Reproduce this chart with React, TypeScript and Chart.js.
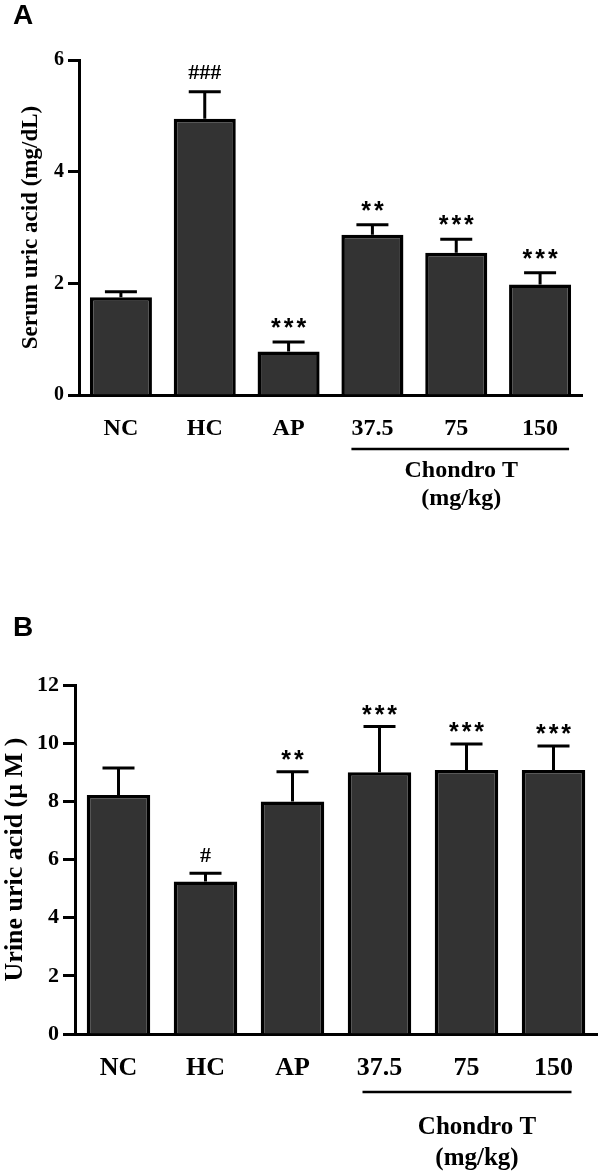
import React, { useEffect, useRef } from 'react';
import { Chart, registerables } from 'chart.js';

Chart.register(...registerables);

// ---------- data ----------
const categories = ['NC', 'HC', 'AP', '37.5', '75', '150'];

const serumMeans = [1.75, 4.95, 0.78, 2.87, 2.55, 1.98];
const serumErrors = [0.10, 0.48, 0.17, 0.18, 0.24, 0.21];
const serumMarks = ['', '###', '***', '**', '***', '***'];
const serumTicks = [0, 2, 4, 6];

const urineMeans = [8.22, 5.24, 7.99, 9.0, 9.08, 9.08];
const urineErrors = [0.93, 0.29, 1.03, 1.57, 0.89, 0.82];
const urineMarks = ['', '#', '**', '***', '***', '***'];
const urineTicks = [0, 2, 4, 6, 8, 10, 12];

const groupLabels = ['Chondro T', '(mg/kg)'];
const groupFirst = 3;
const groupLast = 5;

const SERIF = '"Liberation Serif", "Times New Roman", serif';
const SANS = '"Liberation Sans", Arial, sans-serif';

const annotPlugin = {
  id: 'annot',
  afterDatasetsDraw(chart: any, _args: any, opts: any) {
    const ctx = chart.ctx;
    const meta = chart.getDatasetMeta(0);
    const ys = chart.scales.y;
    const xs = chart.scales.x;
    ctx.save();
    ctx.strokeStyle = '#000';
    ctx.fillStyle = '#000';
    ctx.lineWidth = 3;
    meta.data.forEach((bar: any, i: number) => {
      const v = opts.means[i];
      const e = opts.errors[i];
      const top = ys.getPixelForValue(v);
      const et = ys.getPixelForValue(v + e);
      ctx.beginPath();
      ctx.moveTo(bar.x, top);
      ctx.lineTo(bar.x, et);
      ctx.moveTo(bar.x - opts.capHalf, et);
      ctx.lineTo(bar.x + opts.capHalf, et);
      ctx.stroke();
      const m = opts.marks[i];
      if (m) {
        ctx.textAlign = 'center';
        ctx.textBaseline = 'alphabetic';
        if (m.startsWith('#')) {
          ctx.font = `bold ${opts.hashSize}px ${SERIF}`;
          (ctx as any).letterSpacing = '0px';
          ctx.fillText(m, bar.x, et - opts.markGap + 7);
        } else {
          ctx.font = `bold ${opts.starSize}px ${SANS}`;
          (ctx as any).letterSpacing = '3px';
          ctx.fillText(m, bar.x + 1.5, et - opts.markGap + 14);
        }
      }
    });
    (ctx as any).letterSpacing = '0px';
    // group line
    const base = chart.chartArea.bottom;
    const x1 = xs.getPixelForValue(groupFirst) + opts.lineFrom;
    const x2 = xs.getPixelForValue(groupLast) + opts.lineTo;
    ctx.lineWidth = 2.5;
    ctx.beginPath();
    ctx.moveTo(x1, base + opts.lineDy);
    ctx.lineTo(x2, base + opts.lineDy);
    ctx.stroke();
    ctx.font = `bold ${opts.groupSize}px ${SERIF}`;
    ctx.textAlign = 'center';
    ctx.textBaseline = 'middle';
    const tx = (x1 + x2) / 2 + opts.textDx;
    ctx.fillText(groupLabels[0], tx, base + opts.text1Dy);
    ctx.fillText(groupLabels[1], tx, base + opts.text2Dy);
    // panel letter
    ctx.font = `bold 28px ${SANS}`;
    ctx.textAlign = 'left';
    ctx.textBaseline = 'alphabetic';
    ctx.fillText(opts.letter, 13, opts.letterY);
    ctx.restore();
  },
};

type PanelProps = {
  top: number;
  height: number;
  means: number[];
  errors: number[];
  marks: string[];
  ticks: number[];
  title: string;
  cfg: any;
};

function Panel({ top, height, means, errors, marks, ticks, title, cfg }: PanelProps) {
  const ref = useRef<HTMLCanvasElement>(null);
  useEffect(() => {
    if (!ref.current) return;
    const chart = new Chart(ref.current, {
      type: 'bar',
      data: {
        labels: categories,
        datasets: [
          {
            data: means,
            backgroundColor: '#333333',
            borderColor: '#000000',
            borderWidth: 3.5,
            barPercentage: cfg.barPct,
            categoryPercentage: 1,
          },
        ],
      },
      options: {
        responsive: false,
        animation: false,
        devicePixelRatio: 1,
        events: [],
        layout: { padding: { top: cfg.padTop, right: cfg.padRight, left: 0, bottom: 0 } },
        plugins: {
          legend: { display: false },
          tooltip: { enabled: false },
          annot: {
            means,
            errors,
            marks,
            capHalf: 16,
            markGap: cfg.markGap,
            hashSize: 22,
            starSize: 25,
            lineFrom: cfg.lineFrom,
            lineTo: cfg.lineTo,
            lineDy: cfg.lineDy,
            text1Dy: cfg.text1Dy,
            text2Dy: cfg.text2Dy,
            textDx: cfg.textDx,
            groupSize: cfg.groupSize,
            letter: cfg.letter,
            letterY: cfg.letterY,
          },
        } as any,
        scales: {
          x: {
            type: 'category',
            offset: true,
            grid: { display: false },
            border: { display: true, color: '#000', width: 3 },
            ticks: {
              color: '#000',
              font: { family: SERIF, size: cfg.xSize, weight: 'bold' },
              padding: cfg.xPad,
              maxRotation: 0,
            },
            afterFit: (s: any) => {
              s.height = cfg.xHeight;
            },
          },
          y: {
            min: ticks[0],
            max: ticks[ticks.length - 1],
            afterBuildTicks: (s: any) => {
              s.ticks = ticks.map((v) => ({ value: v }));
            },
            grid: {
              display: true,
              drawOnChartArea: false,
              drawTicks: true,
              tickLength: cfg.tickLen,
              tickWidth: 3,
              tickColor: '#000',
            },
            border: { display: true, color: '#000', width: 3 },
            ticks: {
              color: '#000',
              font: { family: SERIF, size: cfg.ySize, weight: 'bold' },
              padding: 4,
            },
            title: {
              display: true,
              text: title,
              color: '#000',
              font: { family: SERIF, size: cfg.titleSize, weight: 'bold' },
              padding: { top: cfg.titlePad, bottom: 0 },
            },
            afterFit: (s: any) => {
              s.width = cfg.yWidth;
            },
          },
        },
      },
      plugins: [annotPlugin],
    });
    return () => chart.destroy();
  }, []);
  return (
    <canvas
      ref={ref}
      width={598}
      height={height}
      style={{ position: 'absolute', left: 0, top, width: 598, height }}
    />
  );
}

export default function App() {
  return (
    <div style={{ position: 'absolute', left: 0, top: 0, width: 598, height: 1172, background: '#fff' }}>
      <Panel
        top={0}
        height={540}
        means={serumMeans}
        errors={serumErrors}
        marks={serumMarks}
        ticks={serumTicks}
        title="Serum uric acid (mg/dL)"
        cfg={{
          barPct: 0.74,
          padTop: 60,
          padRight: 16,
          xHeight: 145,
          yWidth: 79,
          xSize: 24,
          xPad: 11,
          ySize: 20,
          tickLen: 11,
          titleSize: 23,
          titlePad: 17,
          markGap: 20,
          lineFrom: -21,
          lineTo: 29,
          lineDy: 54,
          text1Dy: 76,
          text2Dy: 104,
          textDx: 1,
          groupSize: 24,
          letter: 'A',
          letterY: 24,
        }}
      />
      <Panel
        top={560}
        height={612}
        means={urineMeans}
        errors={urineErrors}
        marks={urineMarks}
        ticks={urineTicks}
        title="Urine uric acid (µ M )"
        cfg={{
          barPct: 0.73,
          padTop: 125,
          padRight: 1,
          xHeight: 138,
          yWidth: 75,
          xSize: 26,
          xPad: 11,
          ySize: 22,
          tickLen: 12,
          titleSize: 26,
          titlePad: 0,
          markGap: 18,
          lineFrom: -17,
          lineTo: 18,
          lineDy: 58,
          text1Dy: 94,
          text2Dy: 125,
          textDx: 10,
          groupSize: 25,
          letter: 'B',
          letterY: 76,
        }}
      />
    </div>
  );
}
